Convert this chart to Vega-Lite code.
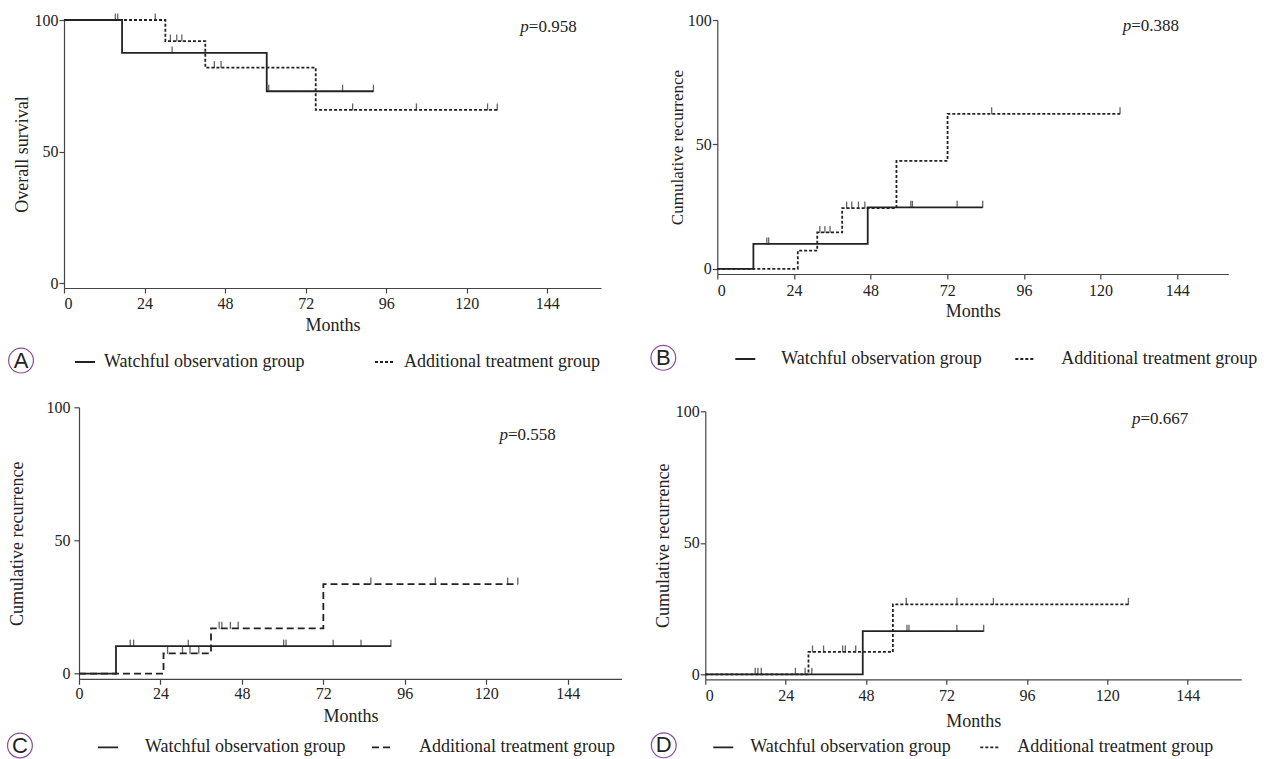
{
  "$schema": "https://vega.github.io/schema/vega-lite/v6.json",
  "background": "white",
  "padding": {"left": 5, "top": 12, "right": 0, "bottom": 0},
  "config": {
    "view": {"stroke": null},
    "font": "Liberation Serif",
    "axis": {"domainColor": "#444", "tickColor": "#444", "labelColor": "#222", "titleColor": "#222", "labelFont": "Liberation Serif", "titleFont": "Liberation Serif", "labelFontSize": 16, "titleFontSize": 18, "titleFontWeight": "normal", "grid": false, "tickSize": 5, "domainWidth": 1.2, "tickWidth": 1.2},
    "legend": {"labelFont": "Liberation Serif", "labelFontSize": 18, "labelColor": "#222", "labelLimit": 300, "symbolType": "stroke", "symbolSize": 400, "symbolStrokeWidth": 1.8, "padding": 0, "direction": "horizontal", "orient": "none"}
  },
  "datasets": {
    "km": [
      {"p": "A", "g": "W", "t": 0, "v": 100}, {"p": "A", "g": "W", "t": 17.3, "v": 87.5}, {"p": "A", "g": "W", "t": 60.4, "v": 72.9}, {"p": "A", "g": "W", "t": 92.2, "v": 72.9},
      {"p": "A", "g": "T", "t": 0, "v": 100}, {"p": "A", "g": "T", "t": 30.2, "v": 92}, {"p": "A", "g": "T", "t": 42.1, "v": 81.9}, {"p": "A", "g": "T", "t": 75, "v": 65.8}, {"p": "A", "g": "T", "t": 129.1, "v": 65.8},
      {"p": "B", "g": "W", "t": 0, "v": 0}, {"p": "B", "g": "W", "t": 11.3, "v": 10}, {"p": "B", "g": "W", "t": 47.1, "v": 24.7}, {"p": "B", "g": "W", "t": 83.1, "v": 24.7},
      {"p": "B", "g": "T", "t": 0, "v": 0}, {"p": "B", "g": "T", "t": 25.2, "v": 7.3}, {"p": "B", "g": "T", "t": 31.3, "v": 14.6}, {"p": "B", "g": "T", "t": 39.1, "v": 24.4}, {"p": "B", "g": "T", "t": 56.1, "v": 43.4}, {"p": "B", "g": "T", "t": 72.1, "v": 62.3}, {"p": "B", "g": "T", "t": 126.1, "v": 62.3},
      {"p": "C", "g": "W", "t": 0, "v": 0}, {"p": "C", "g": "W", "t": 10.9, "v": 10.3}, {"p": "C", "g": "W", "t": 91.9, "v": 10.3},
      {"p": "C", "g": "T", "t": 0, "v": 0}, {"p": "C", "g": "T", "t": 24.9, "v": 7.6}, {"p": "C", "g": "T", "t": 38.9, "v": 17}, {"p": "C", "g": "T", "t": 72, "v": 33.6}, {"p": "C", "g": "T", "t": 129.3, "v": 33.6},
      {"p": "D", "g": "W", "t": 0, "v": 0}, {"p": "D", "g": "W", "t": 47, "v": 16.4}, {"p": "D", "g": "W", "t": 83.1, "v": 16.4},
      {"p": "D", "g": "T", "t": 0, "v": 0}, {"p": "D", "g": "T", "t": 30.8, "v": 8.5}, {"p": "D", "g": "T", "t": 56, "v": 26.6}, {"p": "D", "g": "T", "t": 126.3, "v": 26.6}
    ],
    "cens": [
      {"p": "A", "g": "W", "t": 16, "v": 100}, {"p": "A", "g": "W", "t": 32.2, "v": 87.5}, {"p": "A", "g": "W", "t": 61, "v": 72.9}, {"p": "A", "g": "W", "t": 83, "v": 72.9}, {"p": "A", "g": "W", "t": 92.2, "v": 72.9},
      {"p": "A", "g": "T", "t": 15.3, "v": 100}, {"p": "A", "g": "T", "t": 27.2, "v": 100}, {"p": "A", "g": "T", "t": 31.7, "v": 92}, {"p": "A", "g": "T", "t": 33.6, "v": 92}, {"p": "A", "g": "T", "t": 35.1, "v": 92}, {"p": "A", "g": "T", "t": 44.8, "v": 81.9}, {"p": "A", "g": "T", "t": 46.8, "v": 81.9}, {"p": "A", "g": "T", "t": 86, "v": 65.8}, {"p": "A", "g": "T", "t": 105, "v": 65.8}, {"p": "A", "g": "T", "t": 126.2, "v": 65.8}, {"p": "A", "g": "T", "t": 129.1, "v": 65.8},
      {"p": "B", "g": "W", "t": 15.5, "v": 10}, {"p": "B", "g": "W", "t": 16.1, "v": 10}, {"p": "B", "g": "W", "t": 60.6, "v": 24.7}, {"p": "B", "g": "W", "t": 61.1, "v": 24.7}, {"p": "B", "g": "W", "t": 75.1, "v": 24.7}, {"p": "B", "g": "W", "t": 83.1, "v": 24.7},
      {"p": "B", "g": "T", "t": 32.1, "v": 14.6}, {"p": "B", "g": "T", "t": 33.7, "v": 14.6}, {"p": "B", "g": "T", "t": 35.3, "v": 14.6}, {"p": "B", "g": "T", "t": 40.5, "v": 24.4}, {"p": "B", "g": "T", "t": 42.1, "v": 24.4}, {"p": "B", "g": "T", "t": 44.2, "v": 24.4}, {"p": "B", "g": "T", "t": 46.2, "v": 24.4}, {"p": "B", "g": "T", "t": 85.9, "v": 62.3}, {"p": "B", "g": "T", "t": 126.1, "v": 62.3},
      {"p": "C", "g": "W", "t": 15.1, "v": 10.3}, {"p": "C", "g": "W", "t": 16.1, "v": 10.3}, {"p": "C", "g": "W", "t": 32.2, "v": 10.3}, {"p": "C", "g": "W", "t": 60.3, "v": 10.3}, {"p": "C", "g": "W", "t": 61, "v": 10.3}, {"p": "C", "g": "W", "t": 74.9, "v": 10.3}, {"p": "C", "g": "W", "t": 83.1, "v": 10.3}, {"p": "C", "g": "W", "t": 91.9, "v": 10.3},
      {"p": "C", "g": "T", "t": 26.1, "v": 7.6}, {"p": "C", "g": "T", "t": 30.5, "v": 7.6}, {"p": "C", "g": "T", "t": 32.7, "v": 7.6}, {"p": "C", "g": "T", "t": 35.3, "v": 7.6}, {"p": "C", "g": "T", "t": 41.3, "v": 17}, {"p": "C", "g": "T", "t": 42.1, "v": 17}, {"p": "C", "g": "T", "t": 44.6, "v": 17}, {"p": "C", "g": "T", "t": 46.9, "v": 17}, {"p": "C", "g": "T", "t": 86, "v": 33.6}, {"p": "C", "g": "T", "t": 105, "v": 33.6}, {"p": "C", "g": "T", "t": 126.3, "v": 33.6}, {"p": "C", "g": "T", "t": 129.3, "v": 33.6},
      {"p": "D", "g": "W", "t": 14.9, "v": 0}, {"p": "D", "g": "W", "t": 15.7, "v": 0}, {"p": "D", "g": "W", "t": 16.7, "v": 0}, {"p": "D", "g": "W", "t": 26.9, "v": 0}, {"p": "D", "g": "W", "t": 60.2, "v": 16.4}, {"p": "D", "g": "W", "t": 60.8, "v": 16.4}, {"p": "D", "g": "W", "t": 75.1, "v": 16.4}, {"p": "D", "g": "W", "t": 83.1, "v": 16.4},
      {"p": "D", "g": "T", "t": 29.8, "v": 0}, {"p": "D", "g": "T", "t": 31.8, "v": 0}, {"p": "D", "g": "T", "t": 32, "v": 8.5}, {"p": "D", "g": "T", "t": 35.3, "v": 8.5}, {"p": "D", "g": "T", "t": 41, "v": 8.5}, {"p": "D", "g": "T", "t": 41.8, "v": 8.5}, {"p": "D", "g": "T", "t": 44.9, "v": 8.5}, {"p": "D", "g": "T", "t": 60, "v": 26.6}, {"p": "D", "g": "T", "t": 75.1, "v": 26.6}, {"p": "D", "g": "T", "t": 86, "v": 26.6}, {"p": "D", "g": "T", "t": 126.3, "v": 26.6}
    ]
  },
  "columns": 2,
  "align": "none",
  "spacing": {"row": 23.3, "column": 25.3},
  "resolve": {"scale": {"strokeDash": "independent", "x": "independent", "y": "independent"}, "legend": {"strokeDash": "independent"}},
  "concat": [
    {
      "width": 537, "height": 268,
      "layer": [
        {
          "data": {"name": "km"}, "transform": [{"filter": "datum.p == 'A'"}],
          "mark": {"type": "line", "interpolate": "step-after", "color": "#222", "strokeWidth": 1.8},
          "encoding": {
            "x": {"field": "t", "type": "quantitative", "title": "Months", "scale": {"domain": [0, 160], "nice": false, "zero": false}, "axis": {"title": "Months", "values": [0, 24, 48, 72, 96, 120, 144], "labelPadding": 2, "titlePadding": 5}},
            "y": {"field": "v", "type": "quantitative", "title": "Overall survival", "scale": {"domain": [-1.9, 100], "nice": false, "zero": false}, "axis": {"title": "Overall survival", "values": [0, 50, 100], "labelPadding": 1, "titlePadding": 3}},
            "strokeDash": {"field": "g", "type": "nominal", "scale": {"domain": ["W", "T"], "range": [[1, 0], [3, 2]]}, "legend": {"title": null, "legendX": 10, "legendY": 331, "labelOffset": 8, "columnPadding": 66, "labelExpr": "datum.label == 'W' ? 'Watchful observation group' : 'Additional treatment group'"}}
          }
        },
        {
          "data": {"name": "cens"}, "transform": [{"filter": "datum.p == 'A'"}],
          "mark": {"type": "tick", "orient": "vertical", "size": 7, "thickness": 1.3, "color": "#222", "yOffset": -3},
          "encoding": {"x": {"field": "t", "type": "quantitative", "title": "Months"}, "y": {"field": "v", "type": "quantitative", "title": "Overall survival"}}
        },
        {
          "data": {"values": [{}]},
          "mark": {"type": "point", "shape": "circle", "size": 616, "filled": false, "stroke": "#8a4c9c", "strokeWidth": 1.2, "opacity": 1},
          "encoding": {"x": {"datum": -12.8, "type": "quantitative"}, "y": {"datum": -29.5, "type": "quantitative"}}
        },
        {
          "data": {"values": [{}]},
          "mark": {"type": "text", "text": "A", "font": "Liberation Sans", "fontSize": 22, "color": "#222", "align": "center", "baseline": "middle"},
          "encoding": {"x": {"datum": -12.8, "type": "quantitative"}, "y": {"datum": -29.5, "type": "quantitative"}}
        },
        {
          "data": {"values": [{}]},
          "mark": {"type": "text", "text": "p", "fontStyle": "italic", "fontSize": 17, "color": "#222", "align": "right", "baseline": "middle"},
          "encoding": {"x": {"datum": 138.5, "type": "quantitative"}, "y": {"datum": 97.3, "type": "quantitative"}}
        },
        {
          "data": {"values": [{}]},
          "mark": {"type": "text", "text": "=0.958", "fontSize": 17, "color": "#222", "align": "left", "baseline": "middle"},
          "encoding": {"x": {"datum": 138.5, "type": "quantitative"}, "y": {"datum": 97.3, "type": "quantitative"}}
        }
      ]
    },
    {
      "width": 511, "height": 254,
      "layer": [
        {
          "data": {"name": "km"}, "transform": [{"filter": "datum.p == 'B'"}],
          "mark": {"type": "line", "interpolate": "step-after", "color": "#222", "strokeWidth": 1.8},
          "encoding": {
            "x": {"field": "t", "type": "quantitative", "title": "Months", "scale": {"domain": [0, 160], "nice": false, "zero": false}, "axis": {"title": "Months", "values": [0, 24, 48, 72, 96, 120, 144], "labelPadding": 3, "titlePadding": 4}},
            "y": {"field": "v", "type": "quantitative", "title": "Cumulative recurrence", "scale": {"domain": [-2.1, 100], "nice": false, "zero": false}, "axis": {"title": "Cumulative recurrence", "titleFontSize": 17, "values": [0, 50, 100], "labelPadding": 1, "titlePadding": 1}},
            "strokeDash": {"field": "g", "type": "nominal", "scale": {"domain": ["W", "T"], "range": [[1, 0], [3, 2]]}, "legend": {"title": null, "legendX": 17, "legendY": 328, "labelOffset": 25, "columnPadding": 29, "labelExpr": "datum.label == 'W' ? 'Watchful observation group' : 'Additional treatment group'"}}
          }
        },
        {
          "data": {"name": "cens"}, "transform": [{"filter": "datum.p == 'B'"}],
          "mark": {"type": "tick", "orient": "vertical", "size": 7, "thickness": 1.3, "color": "#222", "yOffset": -3},
          "encoding": {"x": {"field": "t", "type": "quantitative", "title": "Months"}, "y": {"field": "v", "type": "quantitative", "title": "Cumulative recurrence"}}
        },
        {
          "data": {"values": [{}]},
          "mark": {"type": "point", "shape": "circle", "size": 616, "filled": false, "stroke": "#8a4c9c", "strokeWidth": 1.2, "opacity": 1},
          "encoding": {"x": {"datum": -16.9, "type": "quantitative"}, "y": {"datum": -35.8, "type": "quantitative"}}
        },
        {
          "data": {"values": [{}]},
          "mark": {"type": "text", "text": "B", "font": "Liberation Sans", "fontSize": 22, "color": "#222", "align": "center", "baseline": "middle"},
          "encoding": {"x": {"datum": -16.9, "type": "quantitative"}, "y": {"datum": -35.8, "type": "quantitative"}}
        },
        {
          "data": {"values": [{}]},
          "mark": {"type": "text", "text": "p", "fontStyle": "italic", "fontSize": 17, "color": "#222", "align": "right", "baseline": "middle"},
          "encoding": {"x": {"datum": 129.6, "type": "quantitative"}, "y": {"datum": 97.5, "type": "quantitative"}}
        },
        {
          "data": {"values": [{}]},
          "mark": {"type": "text", "text": "=0.388", "fontSize": 17, "color": "#222", "align": "left", "baseline": "middle"},
          "encoding": {"x": {"datum": 129.6, "type": "quantitative"}, "y": {"datum": 97.5, "type": "quantitative"}}
        }
      ]
    },
    {
      "width": 558, "height": 272,
      "layer": [
        {
          "data": {"name": "km"}, "transform": [{"filter": "datum.p == 'C'"}],
          "mark": {"type": "line", "interpolate": "step-after", "color": "#222", "strokeWidth": 1.8},
          "encoding": {
            "x": {"field": "t", "type": "quantitative", "title": "Months", "scale": {"domain": [-4.42, 160], "nice": false, "zero": false}, "axis": {"title": "Months", "domain": false, "values": [0, 24, 48, 72, 96, 120, 144], "labelPadding": 1, "titlePadding": 6, "titleX": 286.5}},
            "y": {"field": "v", "type": "quantitative", "title": "Cumulative recurrence", "scale": {"domain": [-2.14, 100], "nice": false, "zero": false}, "axis": {"title": "Cumulative recurrence", "offset": -15, "values": [0, 50, 100], "labelPadding": 4, "titlePadding": 20}},
            "strokeDash": {"field": "g", "type": "nominal", "scale": {"domain": ["W", "T"], "range": [[1, 0], [7, 4]]}, "legend": {"title": null, "legendX": 33, "legendY": 329, "labelOffset": 26, "columnPadding": 22, "labelExpr": "datum.label == 'W' ? 'Watchful observation group' : 'Additional treatment group'"}}
          }
        },
        {
          "data": {"values": [{}]},
          "mark": {"type": "rule", "color": "#444", "strokeWidth": 1.2},
          "encoding": {"x": {"datum": 0, "type": "quantitative"}, "x2": {"datum": 160}, "y": {"datum": -2.14, "type": "quantitative"}}
        },
        {
          "data": {"name": "cens"}, "transform": [{"filter": "datum.p == 'C'"}],
          "mark": {"type": "tick", "orient": "vertical", "size": 7, "thickness": 1.3, "color": "#222", "yOffset": -3},
          "encoding": {"x": {"field": "t", "type": "quantitative", "title": "Months"}, "y": {"field": "v", "type": "quantitative", "title": "Cumulative recurrence"}}
        },
        {
          "data": {"values": [{}]},
          "mark": {"type": "point", "shape": "circle", "size": 616, "filled": false, "stroke": "#8a4c9c", "strokeWidth": 1.2, "opacity": 1},
          "encoding": {"x": {"datum": -17.4, "type": "quantitative"}, "y": {"datum": -27, "type": "quantitative"}}
        },
        {
          "data": {"values": [{}]},
          "mark": {"type": "text", "text": "C", "font": "Liberation Sans", "fontSize": 22, "color": "#222", "align": "center", "baseline": "middle"},
          "encoding": {"x": {"datum": -17.4, "type": "quantitative"}, "y": {"datum": -27, "type": "quantitative"}}
        },
        {
          "data": {"values": [{}]},
          "mark": {"type": "text", "text": "p", "fontStyle": "italic", "fontSize": 17, "color": "#222", "align": "right", "baseline": "middle"},
          "encoding": {"x": {"datum": 126.4, "type": "quantitative"}, "y": {"datum": 89.6, "type": "quantitative"}}
        },
        {
          "data": {"values": [{}]},
          "mark": {"type": "text", "text": "=0.558", "fontSize": 17, "color": "#222", "align": "left", "baseline": "middle"},
          "encoding": {"x": {"datum": 126.4, "type": "quantitative"}, "y": {"datum": 89.6, "type": "quantitative"}}
        }
      ]
    },
    {
      "width": 536, "height": 268,
      "layer": [
        {
          "data": {"name": "km"}, "transform": [{"filter": "datum.p == 'D'"}],
          "mark": {"type": "line", "interpolate": "step-after", "color": "#222", "strokeWidth": 1.8},
          "encoding": {
            "x": {"field": "t", "type": "quantitative", "title": "Months", "scale": {"domain": [0, 160], "nice": false, "zero": false}, "axis": {"title": "Months", "values": [0, 24, 48, 72, 96, 120, 144], "labelPadding": 3, "titlePadding": 9}},
            "y": {"field": "v", "type": "quantitative", "title": "Cumulative recurrence", "scale": {"domain": [-1.9, 100], "nice": false, "zero": false}, "axis": {"title": "Cumulative recurrence", "values": [0, 50, 100], "labelPadding": 1, "titlePadding": 3}},
            "strokeDash": {"field": "g", "type": "nominal", "scale": {"domain": ["W", "T"], "range": [[1, 0], [3, 2]]}, "legend": {"title": null, "legendX": 7, "legendY": 325, "labelOffset": 16, "columnPadding": 25, "labelExpr": "datum.label == 'W' ? 'Watchful observation group' : 'Additional treatment group'"}}
          }
        },
        {
          "data": {"name": "cens"}, "transform": [{"filter": "datum.p == 'D'"}],
          "mark": {"type": "tick", "orient": "vertical", "size": 7, "thickness": 1.3, "color": "#222", "yOffset": -3},
          "encoding": {"x": {"field": "t", "type": "quantitative", "title": "Months"}, "y": {"field": "v", "type": "quantitative", "title": "Cumulative recurrence"}}
        },
        {
          "data": {"values": [{}]},
          "mark": {"type": "point", "shape": "circle", "size": 4, "opacity": 0},
          "encoding": {"x": {"datum": 0, "type": "quantitative"}, "y": {"datum": 104, "type": "quantitative"}}
        },
        {
          "data": {"values": [{}]},
          "mark": {"type": "point", "shape": "circle", "size": 616, "filled": false, "stroke": "#8a4c9c", "strokeWidth": 1.2, "opacity": 1},
          "encoding": {"x": {"datum": -12.4, "type": "quantitative"}, "y": {"datum": -27, "type": "quantitative"}}
        },
        {
          "data": {"values": [{}]},
          "mark": {"type": "text", "text": "D", "font": "Liberation Sans", "fontSize": 22, "color": "#222", "align": "center", "baseline": "middle"},
          "encoding": {"x": {"datum": -12.4, "type": "quantitative"}, "y": {"datum": -27, "type": "quantitative"}}
        },
        {
          "data": {"values": [{}]},
          "mark": {"type": "text", "text": "p", "fontStyle": "italic", "fontSize": 17, "color": "#222", "align": "right", "baseline": "middle"},
          "encoding": {"x": {"datum": 129.9, "type": "quantitative"}, "y": {"datum": 97.2, "type": "quantitative"}}
        },
        {
          "data": {"values": [{}]},
          "mark": {"type": "text", "text": "=0.667", "fontSize": 17, "color": "#222", "align": "left", "baseline": "middle"},
          "encoding": {"x": {"datum": 129.9, "type": "quantitative"}, "y": {"datum": 97.2, "type": "quantitative"}}
        }
      ]
    }
  ]
}
